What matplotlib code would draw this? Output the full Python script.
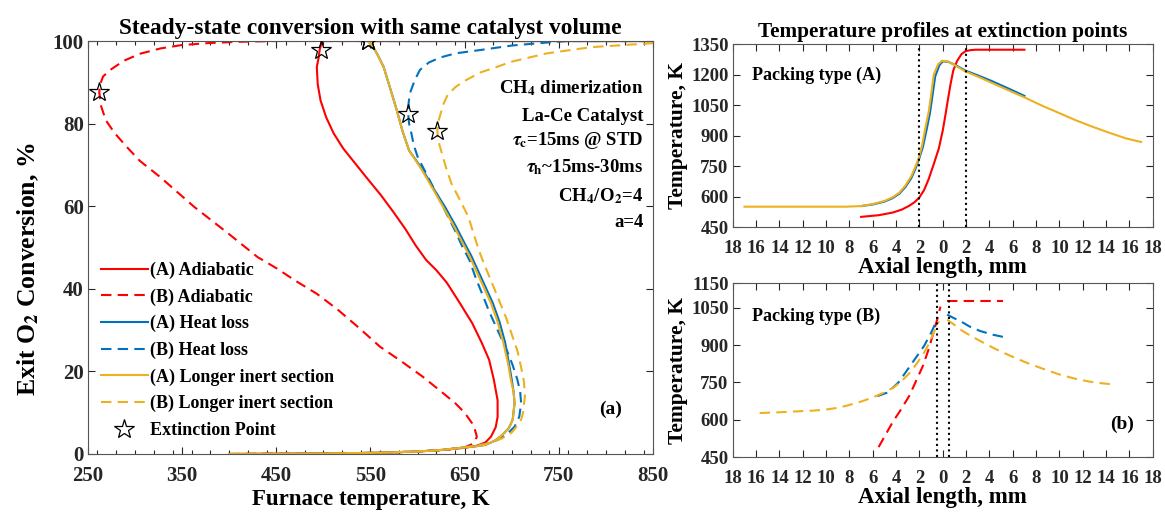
import numpy as np
import matplotlib.pyplot as plt
from matplotlib.ticker import MultipleLocator, FuncFormatter

plt.rcParams['font.family'] = ['Liberation Serif', 'DejaVu Serif']
plt.rcParams['font.weight'] = 'bold'
plt.rcParams['mathtext.fontset'] = 'stix'

RED = '#FF0000'
BLUE = '#0072BD'
YEL = '#EDB120'
DASH = (0, (5, 3))

# ---- (a) conversion vs furnace temperature ----
T_A_adiab = [400, 500, 560, 600, 627, 650, 663, 672, 678, 683, 685, 685, 681, 676, 668, 658, 645, 631, 620, 609,
             598, 587, 574, 561, 547, 534, 521, 511, 503, 497, 494, 493, 495, 496, 498, 500, 550, 650, 750, 850]
c_A_adiab = [0, 0.1, 0.3, 0.6, 1.0, 1.5, 2.0, 2.8, 4.2, 6.5, 9, 13, 18, 22.8, 27, 31.7, 36.5, 41.5, 44.5, 47,
             50.5, 54.5, 58.7, 62.7, 66.6, 70.3, 74, 77.6, 81.5, 85.6, 89.5, 93.7, 96, 97.8, 99.5, 100, 100, 100, 100, 100]

T_B_adiab = [400, 500, 560, 600, 630, 650, 657, 661, 663, 661, 658, 650, 640, 623, 605, 583, 560, 538, 515, 493,
             470, 450, 430, 399, 363, 327, 305, 291, 278, 269, 264, 262, 263, 266, 273, 288, 305, 327, 349, 378,
             408, 450, 500, 546, 650, 850]
c_B_adiab = [0, 0.1, 0.3, 0.6, 1.0, 1.6, 2.3, 3.2, 4.2, 5.8, 7.4, 10, 12.3, 15.5, 18.8, 22.4, 26, 30.5, 35, 38.8,
             42, 45, 47.7, 53.4, 59.8, 67, 71, 74.4, 77.8, 80.8, 84.2, 87.6, 89.5, 91.4, 92.9, 95.2, 96.9, 98.2, 99, 99.5,
             99.8, 100, 100, 100, 100, 100]

T_A_loss = [400, 500, 560, 600, 627, 650, 663, 672, 682, 690, 697, 701, 703, 702, 700, 697, 693, 687, 680, 673,
            665, 657, 650, 641, 630, 618, 605, 591, 584, 578, 571, 564, 558, 553, 549, 547, 550, 650, 750, 850]
c_A_loss = [0, 0.1, 0.3, 0.6, 1.0, 1.6, 1.9, 2.2, 3.2, 4.6, 6.3, 8.3, 12.3, 15, 18, 22, 27, 32, 36.5, 40,
            44, 48, 51, 55, 59.5, 63.9, 69, 73.5, 78.2, 83.2, 88.5, 93.7, 96.5, 98.5, 99.6, 100, 100, 100, 100, 100]

T_A_inert = [400, 500, 560, 600, 627, 650, 663, 672, 682, 690, 697, 701, 703, 702, 699, 696, 691, 685, 678, 671,
             663, 655, 648, 639, 628, 617, 604, 591, 584, 578, 571, 564, 558, 553, 549, 547, 550, 650, 750, 850]
c_A_inert = [0, 0.1, 0.3, 0.6, 1.0, 1.6, 1.9, 2.2, 3.2, 4.6, 6.3, 8.3, 12.3, 15, 18, 22, 27, 32, 36.5, 40,
             44, 48, 51, 55, 59.5, 63.9, 69, 73.5, 78.2, 83.2, 88.5, 93.7, 96.5, 98.5, 99.6, 100, 100, 100, 100, 100]

T_B_loss = [400, 500, 560, 600, 627, 650, 672, 685, 695, 703, 708, 710, 709, 706, 701, 695, 689, 683, 676, 670,
            662, 655, 647, 640, 629, 618, 609, 600, 596, 593.5, 591, 590, 590.5, 592, 597, 602.5, 612, 624, 640, 666,
            700, 730, 760, 850]
c_B_loss = [0, 0.1, 0.3, 0.6, 1.0, 1.6, 2.4, 3.4, 4.8, 6.6, 9, 12.3, 15, 18, 21.5, 25, 28, 31, 34.5, 38,
            42.5, 47, 50.5, 54, 59, 64, 68, 72, 74.8, 77.6, 80, 82.4, 85, 87.4, 90.5, 93, 94.8, 96, 97, 97.8,
            98.9, 99.5, 100, 100]

T_B_inert = [400, 500, 560, 600, 627, 650, 672, 690, 700, 705, 710, 712, 714, 713, 710, 706, 700, 694, 686, 678,
             671, 665, 660, 654, 645, 636, 630, 625, 622, 621, 622, 624, 627, 632, 640.5, 652, 667, 685, 700, 737,
             784, 851]
c_B_inert = [0, 0.1, 0.3, 0.6, 1.0, 1.6, 2.4, 3.8, 5.2, 6.6, 8.3, 10, 14, 17.5, 21, 25, 29, 33, 37.5, 42,
             45.8, 49.4, 53, 57.4, 61.5, 65.5, 69.5, 73.5, 75.8, 78.3, 80.5, 82, 84.5, 87, 88.9, 90.6, 92.4, 93.8, 95, 97,
             98.5, 99.5]

ext_T = [262, 497, 547, 547, 590, 621]
ext_c = [87.6, 97.8, 100, 100, 82.4, 78.3]

# ---- (b) temperature profiles ----
zA_inert = [-17, -12, -8.3, -7, -6.0, -5.0, -4.3, -3.7, -3.2, -2.7, -2.3, -2.0, -1.77, -1.5, -1.2, -1.0, -0.77, -0.4,
            -0.06, 0.52, 1.2, 1.95, 3.0, 4.2, 5.6, 7.1, 8.5, 10, 11.4, 12.8, 14.3, 15.7, 17]
TA_inert = [550, 550, 550, 553, 563, 578, 596, 620, 654, 700, 753, 800, 853, 935, 1019, 1100, 1201, 1250,
            1268, 1263, 1240, 1215, 1190, 1159, 1123, 1085, 1047, 1010, 975, 944, 913, 886, 868]

zA_loss = [-7, -6.0, -5.0, -4.3, -3.7, -3.2, -2.7, -2.3, -2.0, -1.7, -1.4, -1.1, -0.9, -0.65, -0.3,
           0.0, 0.5, 1.2, 1.95, 3.0, 4.2, 5.6, 7.0]
TA_loss = [553, 561, 575, 592, 615, 647, 690, 742, 790, 845, 925, 1010, 1090, 1190, 1245,
           1265, 1262, 1243, 1219, 1196, 1168, 1132, 1095]

zA_adiab = [-7.0, -5.5, -4.3, -3.5, -2.86, -2.4, -2.0, -1.6, -1.2, -0.8, -0.34, 0.0, 0.23, 0.45, 0.66, 0.9, 1.23,
            1.6, 1.95, 2.4, 2.8, 4.0, 5.5, 7.0]
TA_adiab = [500, 508, 521, 536, 555, 573, 596, 632, 687, 755, 836, 925, 1002, 1080, 1151, 1220, 1267,
            1300, 1315, 1320, 1322, 1322, 1322, 1322]

zB_inert_in = [-15.7, -14, -12.8, -11, -10, -9, -8.2, -7.2, -6.2, -5.2, -4.2, -3.5, -2.8, -2.2, -1.6, -1.2, -0.9,
               -0.6, -0.34]
TB_inert_in = [627, 630, 633, 637, 641, 648, 657, 670, 686, 706, 730, 757, 790, 828, 870, 905, 937, 968, 997]
zB_inert_out = [0.37, 0.9, 1.5, 2.3, 3.2, 4.5, 5.8, 7.2, 8.7, 10, 11.5, 13, 14.4, 14.8]
TB_inert_out = [1003, 985, 963, 940, 917, 885, 857, 829, 803, 782, 763, 750, 743, 741]

zB_loss_in = [-5.6, -4.7, -3.8, -3.0, -2.3, -1.6, -1.0, -0.46]
TB_loss_in = [695, 710, 750, 803, 850, 897, 950, 1005]
zB_loss_out = [0.37, 0.9, 1.5, 2.3, 3.2, 4.3, 5.5]
TB_loss_out = [1023, 1010, 997, 975, 957, 942, 930]

zB_adiab_in = [-5.5, -4.9, -4.3, -3.6, -2.86, -2.3, -1.7, -1.2, -0.8, -0.5, -0.2]
TB_adiab_in = [490, 540, 590, 640, 697, 755, 817, 885, 950, 1000, 1055]
zB_adiab_out = [0.37, 2.0, 3.5, 5.2]
TB_adiab_out = [1077, 1077, 1077, 1077]

fig = plt.figure(figsize=(11.65, 5.12), dpi=100)

ax = fig.add_axes([0.0755, 0.1133, 0.485, 0.8066])
ax.plot(T_A_adiab, c_A_adiab, color=RED, lw=1.5, label='(A) Adiabatic')
ax.plot(T_B_adiab, c_B_adiab, color=RED, lw=1.5, ls=DASH, label='(B) Adiabatic')
ax.plot(T_A_loss, c_A_loss, color=BLUE, lw=1.5, label='(A) Heat loss')
ax.plot(T_B_loss, c_B_loss, color=BLUE, lw=1.5, ls=DASH, label='(B) Heat loss')
ax.plot(T_A_inert, c_A_inert, color=YEL, lw=1.5, label='(A) Longer inert section')
ax.plot(T_B_inert, c_B_inert, color=YEL, lw=1.5, ls=DASH, label='(B) Longer inert section')
ax.plot(ext_T, ext_c, ls='none', marker='*', ms=15, mfc='none', mec='k', mew=0.9,
        label='Extinction Point', zorder=5)
ax.set_xlim(250, 850)
ax.set_ylim(0, 100)
ax.set_xticks(np.arange(250, 851, 100))
ax.xaxis.set_minor_locator(MultipleLocator(20))
ax.set_yticks(np.arange(0, 101, 20))
ax.set_xlabel('Furnace temperature, K', fontsize=16.5, fontweight='bold', labelpad=2)
ax.set_ylabel(r'Exit O$_\mathbf{2}$ Conversion, %', fontsize=18.5, fontweight='bold')
ax.yaxis.set_label_coords(-0.083, 0.448)
ax.set_title('Steady-state conversion with same catalyst volume', fontsize=16.8, fontweight='bold', pad=5)
ax.legend(loc='lower left', bbox_to_anchor=(0.0, 0.006), frameon=False, fontsize=13,
          handlelength=2.6, handletextpad=0.15, labelspacing=0.52, borderaxespad=0.3)

notes = [r'CH$_\mathbf{4}$ dimerization', 'La-Ce Catalyst', r'$\tau_\mathbf{c}$=15ms @ STD',
         r'$\tau_\mathbf{h}$~15ms-30ms', r'CH$_\mathbf{4}$/O$_\mathbf{2}$=4', 'a=4']
note_y = [0.885, 0.818, 0.76, 0.695, 0.625, 0.56]
for s, yy in zip(notes, note_y):
    ax.text(0.983, yy, s, transform=ax.transAxes, ha='right', va='center', fontsize=13.5, fontweight='bold')
ax.text(0.945, 0.108, '(a)', transform=ax.transAxes, ha='right', va='center', fontsize=14, fontweight='bold')

abs_fmt = FuncFormatter(lambda v, p: f'{abs(v):.0f}')

axA = fig.add_axes([0.629, 0.5566, 0.3605, 0.3574])
axA.plot(zA_adiab, TA_adiab, color=RED, lw=1.5)
axA.plot(zA_loss, TA_loss, color=BLUE, lw=1.5)
axA.plot(zA_inert, TA_inert, color=YEL, lw=1.5)
for v in [-2, 2]:
    axA.axvline(v, color='k', ls=':', lw=1.5)
axA.set_ylim(450, 1350)
axA.set_yticks(np.arange(450, 1351, 150))
axA.text(0.045, 0.83, 'Packing type (A)', transform=axA.transAxes, fontsize=13, fontweight='bold', va='center')
axA.set_xlabel('Axial length, mm', fontsize=16.5, fontweight='bold', labelpad=0)
axA.set_ylabel('Temperature, K', fontsize=15.5, fontweight='bold', labelpad=2)
axA.set_title('Temperature profiles at extinction points', fontsize=15.3, fontweight='bold', pad=5)

axB = fig.add_axes([0.629, 0.1074, 0.3605, 0.3398])
axB.plot(zB_adiab_in, TB_adiab_in, color=RED, lw=1.5, ls=DASH)
axB.plot(zB_adiab_out, TB_adiab_out, color=RED, lw=1.5, ls=DASH)
axB.plot(zB_loss_in, TB_loss_in, color=BLUE, lw=1.5, ls=DASH)
axB.plot(zB_loss_out, TB_loss_out, color=BLUE, lw=1.5, ls=DASH)
axB.plot(zB_inert_in, TB_inert_in, color=YEL, lw=1.5, ls=DASH)
axB.plot(zB_inert_out, TB_inert_out, color=YEL, lw=1.5, ls=DASH)
for v in [-0.5, 0.5]:
    axB.axvline(v, color='k', ls=':', lw=1.5)
axB.set_ylim(450, 1150)
axB.set_yticks([450, 600, 750, 900, 1050, 1150])
axB.text(0.045, 0.81, 'Packing type (B)', transform=axB.transAxes, fontsize=13, fontweight='bold', va='center')
axB.text(0.955, 0.19, '(b)', transform=axB.transAxes, ha='right', va='center', fontsize=14, fontweight='bold')
axB.set_xlabel('Axial length, mm', fontsize=16.5, fontweight='bold', labelpad=0)
axB.set_ylabel('Temperature, K', fontsize=15.5, fontweight='bold', labelpad=2)

for a in [axA, axB]:
    a.set_xlim(-18, 18)
    a.set_xticks(np.arange(-18, 19, 2))
    a.xaxis.set_major_formatter(abs_fmt)

for a, fs in [(ax, 15), (axA, 13.5), (axB, 13.5)]:
    a.tick_params(which='both', direction='in', top=True, right=True, labelsize=fs, colors='#262626',
                  length=5, width=0.8, pad=3)
    a.tick_params(axis='x', which='both', pad=9)
    a.tick_params(which='minor', length=3)
    for sp in a.spines.values():
        sp.set_color('#555555')
        sp.set_linewidth(0.8)
    for lab in a.get_xticklabels() + a.get_yticklabels():
        lab.set_fontweight('bold')

fig.savefig('out.png', dpi=100)
